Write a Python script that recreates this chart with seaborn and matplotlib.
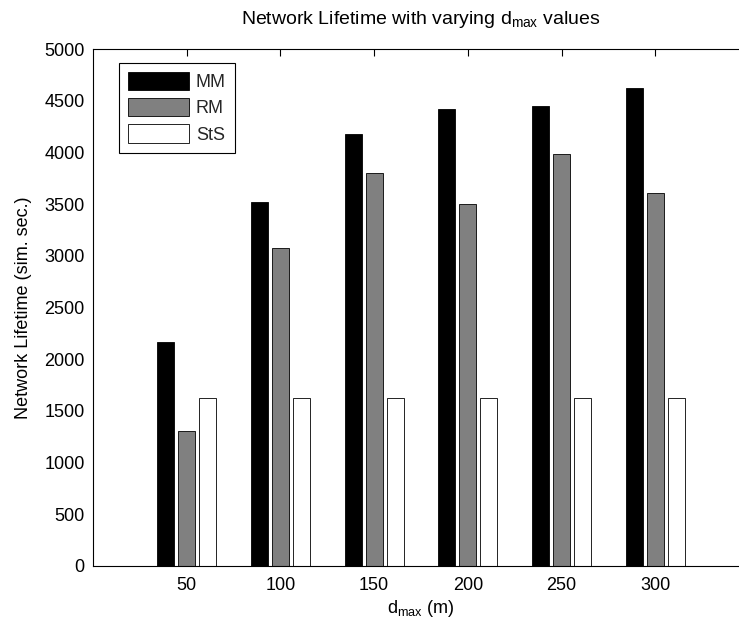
import pandas as pd
import matplotlib
matplotlib.use("Agg")
import matplotlib.pyplot as plt
import seaborn as sns
from matplotlib.patches import Patch

# values
d_max = [50, 100, 150, 200, 250, 300]
mm_lifetime = [2165, 3520, 4180, 4420, 4450, 4620]
rm_lifetime = [1310, 3080, 3800, 3505, 3985, 3610]
sts_lifetime = [1620, 1620, 1620, 1620, 1620, 1620]
methods = ["MM", "RM", "StS"]
colors = ["#000000", "#808080", "#ffffff"]


def build_frame():
    # long format table for seaborn
    rows = []
    for name, vals in zip(methods, [mm_lifetime, rm_lifetime, sts_lifetime]):
        for d, v in zip(d_max, vals):
            rows.append({"d_max": d, "method": name, "lifetime": v})
    return pd.DataFrame(rows)


def make_plot(data):
    sns.set_theme(style="white")
    plt.rcParams["font.family"] = ["Liberation Sans", "DejaVu Sans"]
    plt.rcParams["mathtext.fontset"] = "custom"
    plt.rcParams["mathtext.rm"] = "Liberation Sans"
    plt.rcParams["mathtext.it"] = "Liberation Sans"

    fig = plt.figure(figsize=(7.39, 6.27), dpi=100)
    # right edge of the axes runs past the figure, as in the original
    ax = fig.add_axes([93 / 739, 61 / 627, 656 / 739, 517 / 627])

    sns.barplot(data=data, x="d_max", y="lifetime", hue="method",
                hue_order=methods, palette=colors, saturation=1,
                native_scale=True, width=0.672, gap=0.2,
                edgecolor="black", linewidth=0.6, errorbar=None,
                legend=False, ax=ax)

    ax.set_xlim(0, 350)
    ax.set_ylim(0, 5000)
    ax.set_xticks(d_max)
    ax.set_xticklabels([str(d) for d in d_max])
    ax.set_yticks(range(0, 5001, 500))

    for s in ax.spines.values():
        s.set_color("black")
        s.set_linewidth(0.8)

    ax.tick_params(axis="both", direction="in", length=5, width=0.8,
                   colors="black", labelsize=13, top=True, right=True)
    ax.tick_params(axis="x", pad=8)
    ax.tick_params(axis="y", pad=6)

    ax.set_title(r"Network Lifetime with varying d$_{\mathrm{max}}$ values",
                 fontsize=14, color="black", pad=18)
    ax.set_xlabel(r"d$_{\mathrm{max}}$ (m)", fontsize=13, color="black", labelpad=3)
    ax.set_ylabel("Network Lifetime (sim. sec.)", fontsize=13, color="black", labelpad=9)

    handles = [Patch(facecolor=c, edgecolor="black", linewidth=0.6, label=m)
               for c, m in zip(colors, methods)]
    leg = ax.legend(handles=handles, loc="upper left",
                    bbox_to_anchor=(26 / 656, (566 - 63) / 517),
                    borderaxespad=0, fontsize=13, fancybox=False,
                    handlelength=3.4, handleheight=1.17, labelspacing=0.39,
                    handletextpad=0.35, borderpad=0.5, framealpha=1)
    leg.get_frame().set_edgecolor("black")
    leg.get_frame().set_linewidth(0.8)

    fig.savefig("out.png", dpi=100)


if __name__ == "__main__":
    make_plot(build_frame())
